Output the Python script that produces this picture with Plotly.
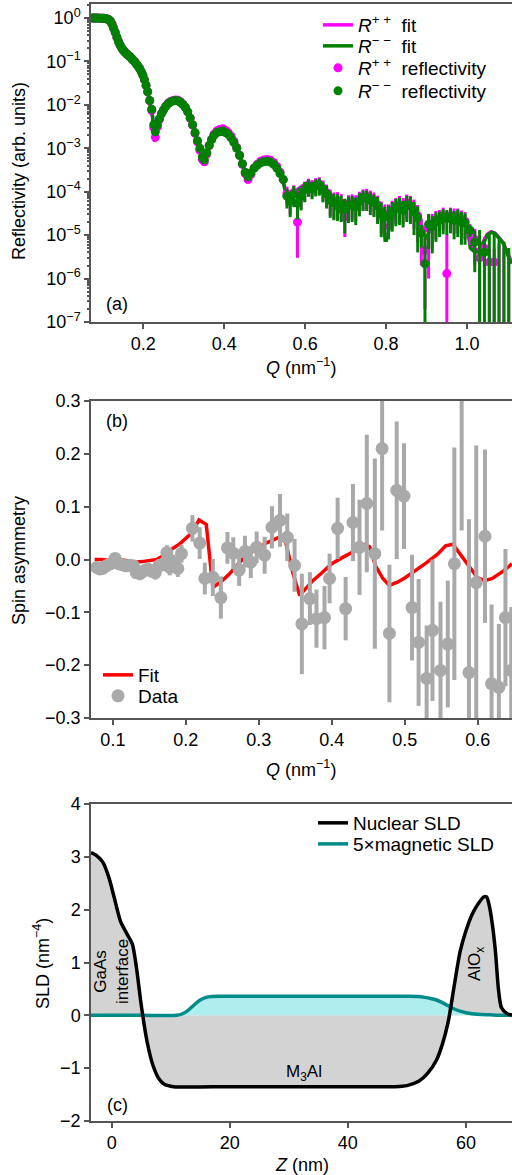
import plotly.graph_objects as go

# ---------------- (a) polarized reflectivity ----------------
q_refl = [
    0.075, 0.079, 0.083, 0.087, 0.091, 0.095, 0.099, 0.103, 0.107, 0.111,
    0.115, 0.119, 0.123, 0.127, 0.131, 0.135, 0.139, 0.143, 0.147, 0.151,
    0.155, 0.159, 0.163, 0.167, 0.171, 0.175, 0.179, 0.183, 0.187, 0.191,
    0.195, 0.199, 0.203, 0.207, 0.211, 0.216, 0.221, 0.226, 0.230, 0.235,
    0.240, 0.245, 0.250, 0.256, 0.262, 0.268, 0.274, 0.280, 0.286, 0.292,
    0.298, 0.304, 0.310, 0.316, 0.322, 0.328, 0.334, 0.340, 0.346, 0.351,
    0.357, 0.363, 0.369, 0.375, 0.382, 0.389, 0.396, 0.403, 0.410, 0.417,
    0.424, 0.431, 0.438, 0.445, 0.452, 0.459, 0.466, 0.474, 0.482, 0.490,
    0.498, 0.506, 0.514, 0.522, 0.530, 0.538, 0.546, 0.555, 0.563, 0.572,
    0.581, 0.590, 0.599, 0.608, 0.617, 0.626, 0.635, 0.644, 0.653, 0.662,
    0.671, 0.680, 0.689, 0.698, 0.707, 0.716, 0.725, 0.734, 0.743, 0.752,
    0.761, 0.770, 0.779, 0.788, 0.797, 0.806, 0.815, 0.824, 0.833, 0.842,
    0.851, 0.860, 0.869, 0.878, 0.887, 0.896, 0.905, 0.914, 0.923, 0.932,
    0.941, 0.950, 0.959, 0.968, 0.977, 0.986, 0.995, 1.007, 1.019, 1.031,
    1.043, 1.055, 1.067, 1.079, 1.091, 1.103,
]

r_pp = [
    1.0, 1.0, 1.0, 1.0, 0.99, 0.99, 0.99, 0.98, 0.97, 0.95,
    0.92, 0.85, 0.73, 0.59, 0.47, 0.36, 0.29, 0.24, 0.205, 0.182,
    0.165, 0.151, 0.14, 0.13, 0.119, 0.108, 0.099, 0.088, 0.079, 0.069,
    0.059, 0.049, 0.038, 0.028, 0.020, 0.0124, 7.5e-3, 3.0e-3, 1.8e-3, 3.1e-3,
    4.6e-3, 6.2e-3, 7.6e-3, 9.4e-3, 1.1e-2, 1.2e-2, 1.26e-2, 1.3e-2, 1.27e-2, 1.18e-2,
    1.04e-2, 8.8e-3, 6.9e-3, 4.9e-3, 3.4e-3, 2.2e-3, 1.4e-3, 9.0e-4, 5.6e-4, 4.9e-4,
    7.4e-4, 1.15e-3, 1.6e-3, 2.1e-3, 2.5e-3, 2.7e-3, 2.8e-3, 2.6e-3, 2.3e-3, 1.9e-3,
    1.45e-3, 1.05e-3, 7.0e-4, 4.3e-4, 2.6e-4, 1.9e-4, 2.5e-4, 3.5e-4, 4.3e-4, 5.0e-4,
    5.4e-4, 5.5e-4, 5.3e-4, 4.7e-4, 3.8e-4, 2.8e-4, 1.9e-4, 9.0e-5, 6.5e-5, 9.5e-5,
    2.0e-5, 8.5e-5, 1.15e-4, 1.4e-4, 1.3e-4, 1.45e-4, 1.5e-4, 1.2e-4, 9.5e-5, 7.0e-5,
    6.0e-5, 6.2e-5, 5.5e-5, 2.6e-5, 5.2e-5, 5.5e-5, 5.2e-5, 6.5e-5, 7.5e-5, 7.8e-5,
    7.0e-5, 6.2e-5, 5.0e-5, 3.5e-5, 3.0e-5, 3.0e-5, 3.8e-5, 4.5e-5, 5.0e-5, 4.5e-5,
    5.5e-5, 5.0e-5, 4.0e-5, 2.8e-5, 1.3e-5, 4.5e-6, 1.5e-5, 1.8e-5, 2.2e-5, 2.4e-5,
    2.8e-5, 1.3e-6, 2.8e-5, 2.6e-5, 2.6e-5, 2.3e-5, 2.1e-5, 1.2e-5, 8e-6, 3e-6,
    5e-6, 2.4e-6, 2.4e-6, 5e-8, 5e-8, 5e-8,
]

r_mm = [
    1.0, 1.0, 0.99, 1.0, 0.99, 0.99, 0.98, 0.98, 0.97, 0.95,
    0.91, 0.83, 0.71, 0.57, 0.46, 0.355, 0.28, 0.235, 0.20, 0.178,
    0.162, 0.148, 0.138, 0.129, 0.117, 0.107, 0.098, 0.087, 0.078, 0.068,
    0.058, 0.048, 0.038, 0.028, 0.020, 0.0126, 7.9e-3, 3.5e-3, 2.4e-3, 3.5e-3,
    4.8e-3, 6.3e-3, 7.6e-3, 9.3e-3, 1.07e-2, 1.17e-2, 1.23e-2, 1.26e-2, 1.23e-2, 1.15e-2,
    1.02e-2, 8.7e-3, 6.9e-3, 5.0e-3, 3.5e-3, 2.3e-3, 1.5e-3, 1.0e-3, 6.3e-4, 5.4e-4,
    7.9e-4, 1.17e-3, 1.58e-3, 2.0e-3, 2.3e-3, 2.4e-3, 2.5e-3, 2.3e-3, 2.1e-3, 1.74e-3,
    1.35e-3, 1.0e-3, 6.8e-4, 4.4e-4, 2.8e-4, 2.2e-4, 2.7e-4, 3.5e-4, 4.1e-4, 4.6e-4,
    4.9e-4, 5.0e-4, 4.8e-4, 4.3e-4, 3.5e-4, 2.6e-4, 1.9e-4, 7.9e-5, 6.0e-5, 8.9e-5,
    5.5e-5, 7.9e-5, 1.12e-4, 1.32e-4, 1.17e-4, 1.35e-4, 1.41e-4, 1.12e-4, 8.9e-5, 6.3e-5,
    5.6e-5, 5.4e-5, 5.0e-5, 4.0e-5, 4.8e-5, 5.0e-5, 4.5e-5, 6.0e-5, 7.1e-5, 7.1e-5,
    6.3e-5, 5.6e-5, 4.7e-5, 3.2e-5, 2.6e-5, 2.8e-5, 3.5e-5, 4.2e-5, 4.5e-5, 3.8e-5,
    5.0e-5, 4.7e-5, 3.4e-5, 2.5e-5, 1.12e-5, 2.2e-6, 1.78e-5, 1.58e-5, 2.0e-5, 2.2e-5,
    2.5e-5, 2.4e-5, 2.6e-5, 2.2e-5, 2.4e-5, 2.0e-5, 1.9e-5, 1.3e-5, 6.9e-6, 5e-8,
    4.0e-6, 5e-8, 5e-8, 5e-8, 5e-8, 5e-8,
]

dr_pp = [
    0.01, 0.01, 0.01, 0.01, 0.01, 0.01, 0.01, 0.01, 0.01, 0.01,
    0.01, 0.01, 0.01, 0.01, 0.01, 0.008, 0.006, 0.005, 0.004, 0.004,
    0.003, 0.003, 0.003, 0.003, 0.002, 0.002, 0.002, 0.002, 0.002, 0.002,
    1.5e-3, 1.2e-3, 1e-3, 8e-4, 6e-4, 4e-4, 2.5e-4, 1.5e-4, 1.2e-4, 1.5e-4,
    2e-4, 2e-4, 2.5e-4, 3e-4, 3e-4, 3e-4, 3e-4, 3e-4, 3e-4, 3e-4,
    3e-4, 2.5e-4, 2e-4, 1.5e-4, 1.2e-4, 1e-4, 7e-5, 5e-5, 4e-5, 4e-5,
    4e-5, 5e-5, 6e-5, 7e-5, 8e-5, 8e-5, 8e-5, 8e-5, 7e-5, 6e-5,
    5e-5, 4e-5, 3e-5, 2.5e-5, 2e-5, 2e-5, 2e-5, 2.5e-5, 2.5e-5, 3e-5,
    3.5e-5, 3.5e-5, 3.5e-5, 3.5e-5, 3.5e-5, 4e-5, 4e-5, 4e-5, 3.5e-5, 4.5e-5,
    1.7e-5, 4.5e-5, 5.5e-5, 6e-5, 5.5e-5, 6e-5, 6.5e-5, 6e-5, 5e-5, 4.2e-5,
    3.6e-5, 3.6e-5, 3.3e-5, 1.7e-5, 3.1e-5, 3.2e-5, 3.1e-5, 3.5e-5, 3.8e-5, 3.8e-5,
    3.6e-5, 3.4e-5, 3.1e-5, 2.4e-5, 2.1e-5, 2.1e-5, 2.4e-5, 2.7e-5, 3e-5, 2.7e-5,
    3.1e-5, 3e-5, 2.6e-5, 2.1e-5, 1.1e-5, 4.3e-6, 1.4e-5, 1.3e-5, 1.4e-5, 1.4e-5,
    1.5e-5, 9e-6, 1.5e-5, 1.5e-5, 1.5e-5, 1.4e-5, 1.3e-5, 6e-6, 6e-6, 3.5e-6,
    4e-6, 2.5e-6, 2.5e-6, 6e-6, 5e-6, 4e-6,
]

dr_mm = [
    0.01, 0.01, 0.01, 0.01, 0.01, 0.01, 0.01, 0.01, 0.01, 0.01,
    0.01, 0.01, 0.01, 0.01, 0.01, 0.008, 0.006, 0.005, 0.004, 0.004,
    0.003, 0.003, 0.003, 0.003, 0.002, 0.002, 0.002, 0.002, 0.002, 0.002,
    1.5e-3, 1.2e-3, 1e-3, 8e-4, 6e-4, 4e-4, 2.5e-4, 1.5e-4, 1.2e-4, 1.5e-4,
    2e-4, 2e-4, 2.5e-4, 3e-4, 3e-4, 3e-4, 3e-4, 3e-4, 3e-4, 3e-4,
    3e-4, 2.5e-4, 2e-4, 1.5e-4, 1.2e-4, 1e-4, 7e-5, 5e-5, 4e-5, 4e-5,
    4e-5, 5e-5, 6e-5, 7e-5, 8e-5, 8e-5, 8e-5, 8e-5, 7e-5, 6e-5,
    5e-5, 4e-5, 3e-5, 2.5e-5, 2e-5, 2e-5, 2e-5, 2.5e-5, 2.5e-5, 3e-5,
    3.5e-5, 3.5e-5, 3.5e-5, 3.5e-5, 3.5e-5, 4e-5, 4e-5, 3.8e-5, 3.4e-5, 4.5e-5,
    3.2e-5, 4.2e-5, 5.5e-5, 5.6e-5, 5e-5, 5.7e-5, 6e-5, 5.5e-5, 4.8e-5, 3.8e-5,
    3.4e-5, 3.3e-5, 3e-5, 2.9e-5, 2.9e-5, 3e-5, 2.8e-5, 3.3e-5, 3.5e-5, 3.5e-5,
    3.4e-5, 3e-5, 2.9e-5, 2.3e-5, 1.9e-5, 2e-5, 2.3e-5, 2.6e-5, 2.8e-5, 2.3e-5,
    3e-5, 2.9e-5, 2.4e-5, 2.1e-5, 6e-6, 8e-6, 1.3e-5, 1.2e-5, 1.3e-5, 1.3e-5,
    1.45e-5, 1.4e-5, 1.5e-5, 1.4e-5, 1.5e-5, 1.4e-5, 1.3e-5, 4e-6, 5.5e-6, 1.3e-5,
    4.2e-6, 1.1e-5, 1.2e-5, 8e-6, 7e-6, 5e-6,
]

q_fit = [
    0.075, 0.09, 0.10, 0.11, 0.115, 0.12, 0.125, 0.13, 0.135, 0.14,
    0.145, 0.15, 0.16, 0.17, 0.18, 0.19, 0.20, 0.21, 0.217, 0.223,
    0.228, 0.232, 0.238, 0.245, 0.255, 0.265, 0.275, 0.285, 0.295, 0.305,
    0.315, 0.325, 0.335, 0.343, 0.349, 0.355, 0.362, 0.37, 0.38, 0.39,
    0.40, 0.41, 0.42, 0.43, 0.44, 0.45, 0.457, 0.465, 0.475, 0.49,
    0.505, 0.52, 0.535, 0.545, 0.553, 0.56, 0.567, 0.58, 0.595, 0.61,
    0.625, 0.64, 0.655, 0.67, 0.68, 0.69, 0.70, 0.72, 0.74, 0.755,
    0.77, 0.785, 0.80, 0.81, 0.825, 0.84, 0.855, 0.87, 0.88, 0.89,
    0.90, 0.91, 0.925, 0.94, 0.955, 0.97, 0.985, 1.0, 1.008, 1.02,
    1.03, 1.04, 1.05, 1.06, 1.07, 1.08, 1.09, 1.10, 1.11,
]

fit_pp = [
    1.0, 1.0, 0.99, 0.96, 0.92, 0.82, 0.66, 0.5, 0.365, 0.275,
    0.225, 0.19, 0.154, 0.122, 0.097, 0.072, 0.046, 0.022, 0.011, 5.2e-3,
    1.4e-3, 2.3e-3, 4.2e-3, 6.3e-3, 9.3e-3, 1.16e-2, 1.28e-2, 1.3e-2, 1.14e-2, 8.5e-3,
    5.2e-3, 2.7e-3, 1.3e-3, 6.8e-4, 4.6e-4, 7.2e-4, 1.18e-3, 1.8e-3, 2.35e-3, 2.65e-3,
    2.6e-3, 2.25e-3, 1.7e-3, 1.1e-3, 6.0e-4, 3.0e-4, 1.8e-4, 2.5e-4, 3.6e-4, 5.0e-4,
    5.4e-4, 4.8e-4, 3.2e-4, 1.85e-4, 9.0e-5, 6.2e-5, 8.3e-5, 1.1e-4, 1.4e-4, 1.5e-4,
    1.45e-4, 1.2e-4, 8.0e-5, 5.3e-5, 4.2e-5, 3.7e-5, 5.0e-5, 6.8e-5, 8.0e-5, 8.2e-5,
    6.8e-5, 3.8e-5, 1.4e-5, 2.2e-5, 3.9e-5, 5.4e-5, 5.4e-5, 4.1e-5, 2.8e-5, 1.5e-5,
    1.3e-5, 1.6e-5, 2.3e-5, 2.7e-5, 2.8e-5, 2.7e-5, 2.4e-5, 1.9e-5, 6.0e-6, 4.5e-6,
    4.8e-6, 7e-6, 1.05e-5, 1.2e-5, 1.1e-5, 8.5e-6, 6.5e-6, 3.8e-6, 2.4e-6,
]

fit_mm = [
    1.0, 1.0, 0.99, 0.955, 0.91, 0.81, 0.65, 0.49, 0.355, 0.27,
    0.22, 0.186, 0.151, 0.12, 0.095, 0.071, 0.046, 0.022, 0.0112, 5.6e-3,
    1.8e-3, 2.5e-3, 4.3e-3, 6.3e-3, 9.1e-3, 1.12e-2, 1.23e-2, 1.26e-2, 1.1e-2, 8.3e-3,
    5.2e-3, 2.8e-3, 1.4e-3, 7.6e-4, 5.2e-4, 7.6e-4, 1.17e-3, 1.7e-3, 2.2e-3, 2.45e-3,
    2.4e-3, 2.1e-3, 1.58e-3, 1.05e-3, 6.0e-4, 3.2e-4, 2.0e-4, 2.6e-4, 3.5e-4, 4.6e-4,
    5.0e-4, 4.4e-4, 3.0e-4, 1.78e-4, 8.9e-5, 6.0e-5, 7.9e-5, 1.05e-4, 1.32e-4, 1.41e-4,
    1.35e-4, 1.12e-4, 7.6e-5, 5.0e-5, 3.8e-5, 3.3e-5, 4.5e-5, 6.3e-5, 7.4e-5, 7.6e-5,
    6.3e-5, 3.2e-5, 7.1e-6, 1.78e-5, 3.5e-5, 5.0e-5, 5.0e-5, 3.8e-5, 2.5e-5, 1.12e-5,
    8.9e-6, 1.41e-5, 2.1e-5, 2.5e-5, 2.6e-5, 2.5e-5, 2.2e-5, 1.78e-5, 5.0e-6, 4.0e-6,
    4.2e-6, 6.3e-6, 1.0e-5, 1.17e-5, 1.05e-5, 8.3e-6, 6.3e-6, 3.5e-6, 2.2e-6,
]

# ---------------- (b) spin asymmetry ----------------
q_sa = [
    0.078, 0.082, 0.086, 0.091, 0.097, 0.103, 0.108, 0.113, 0.118, 0.123,
    0.128, 0.132, 0.137, 0.142, 0.148, 0.153, 0.158, 0.163, 0.169, 0.174,
    0.178, 0.183, 0.189, 0.194, 0.209, 0.219, 0.226, 0.237, 0.248, 0.257,
    0.265, 0.273, 0.281, 0.289, 0.297, 0.308, 0.318, 0.329, 0.339, 0.349,
    0.359, 0.370, 0.379, 0.390, 0.397, 0.408, 0.419, 0.429, 0.438, 0.448,
    0.459, 0.469, 0.479, 0.489, 0.499, 0.510, 0.519, 0.530, 0.538, 0.549,
    0.559, 0.568, 0.578, 0.588, 0.598, 0.610, 0.619, 0.629, 0.638, 0.646,
]
sa = [
    -0.015, -0.018, -0.017, -0.012, -0.008, 0.002, -0.008, -0.010, -0.012, -0.011,
    -0.012, -0.025, -0.027, -0.022, -0.018, -0.022, -0.025, -0.012, -0.008, 0.013,
    -0.015, -0.006, -0.017, 0.011, 0.059, 0.031, -0.036, -0.034, -0.072, 0.022,
    0.012, -0.020, 0.015, -0.005, 0.023, 0.008, 0.061, 0.074, 0.042, -0.011,
    -0.122, -0.074, -0.112, -0.110, -0.036, 0.059, -0.093, 0.070, 0.023, 0.106,
    0.011, 0.210, -0.140, 0.131, 0.120, -0.091, -0.157, -0.225, -0.134, -0.210,
    -0.160, -0.008, 0.340, -0.214, -0.044, 0.044, -0.235, -0.242, -0.110, -0.210,
]
sa_err = [
    0.010, 0.010, 0.010, 0.010, 0.010, 0.010, 0.010, 0.010, 0.010, 0.010,
    0.011, 0.011, 0.012, 0.012, 0.012, 0.012, 0.013, 0.013, 0.014, 0.014,
    0.015, 0.015, 0.016, 0.017, 0.025, 0.030, 0.030, 0.035, 0.040, 0.030,
    0.030, 0.030, 0.030, 0.030, 0.030, 0.035, 0.040, 0.050, 0.045, 0.050,
    0.095, 0.050, 0.055, 0.060, 0.047, 0.058, 0.060, 0.073, 0.090, 0.130,
    0.180, 0.155, 0.130, 0.130, 0.100, 0.100, 0.120, 0.100, 0.134, 0.130,
    0.120, 0.220, 0.285, 0.290, 0.260, 0.164, 0.150, 0.120, 0.130, 0.120,
]

q_sa_fit = [
    0.075, 0.085, 0.095, 0.10, 0.11, 0.12, 0.13, 0.14, 0.15, 0.16,
    0.17, 0.178, 0.192, 0.208, 0.218, 0.228, 0.237, 0.25, 0.26, 0.27,
    0.28, 0.29, 0.30, 0.31, 0.32, 0.329, 0.337, 0.347, 0.356, 0.364,
    0.374, 0.385, 0.40, 0.415, 0.43, 0.445, 0.452, 0.46, 0.47, 0.479,
    0.49, 0.50, 0.515, 0.53, 0.545, 0.556, 0.566, 0.575, 0.588, 0.60,
    0.61, 0.62, 0.635, 0.647,
]
sa_fit = [
    0.0, 0.0, -0.002, 0.002, 0.0, -0.003, -0.005, -0.004, -0.002, 0.0,
    0.008, 0.017, 0.030, 0.050, 0.075, 0.066, -0.053, -0.040, -0.027, -0.012,
    0.004, 0.014, 0.023, 0.031, 0.037, 0.043, 0.032, -0.027, -0.068, -0.055,
    -0.040, -0.027, -0.008, 0.004, 0.015, 0.028, 0.024, -0.012, -0.036, -0.049,
    -0.043, -0.035, -0.021, -0.006, 0.010, 0.026, 0.029, 0.012, -0.015, -0.035,
    -0.040, -0.036, -0.022, -0.008,
]

# ---------------- (c) depth profiles ----------------
z_nuc = [
    -3.5, -2.5, -1.5, -0.5, 0.5, 1.5, 2.5, 3.5, 4.2, 5.0,
    6.0, 7.0, 8.0, 9.0, 10.5, 20.0, 30.0, 40.0, 48.0, 50.0,
    52.0, 53.5, 55.0, 56.0, 57.0, 58.0, 59.0, 60.0, 61.0, 62.0,
    63.0, 63.5, 64.0, 64.5, 65.0, 65.5, 66.0, 67.0, 68.0,
]
sld_nuc = [
    3.08, 3.02, 2.90, 2.62, 2.20, 1.78, 1.56, 1.35, 0.90, 0.20,
    -0.50, -0.95, -1.20, -1.31, -1.35, -1.35, -1.35, -1.35, -1.35, -1.33,
    -1.25, -1.10, -0.85, -0.55, -0.12, 0.55, 1.20, 1.60, 1.90, 2.10,
    2.24, 2.24, 2.05, 1.70, 1.20, 0.50, 0.15, 0.03, 0.0,
]
z_mag = [
    -3.5, 5.0, 11.0, 12.0, 13.0, 14.0, 15.0, 16.0, 17.0, 18.0,
    30.0, 45.0, 50.0, 52.0, 53.0, 54.0, 55.0, 56.0, 57.0, 58.0,
    59.0, 60.0, 61.0, 62.0, 64.0, 66.0, 68.0,
]
sld_mag5 = [
    0.0, 0.0, 0.0, 0.03, 0.10, 0.20, 0.29, 0.34, 0.355, 0.36,
    0.36, 0.36, 0.36, 0.355, 0.34, 0.32, 0.29, 0.24, 0.18, 0.12,
    0.08, 0.05, 0.03, 0.02, 0.01, 0.0, 0.0,
]

FONT = "Liberation Sans, Arial, Helvetica, sans-serif"
W, H = 512, 1175
AXIS_COLOR = "#555555"


def px(x):
    return x / W


def py(y):
    return 1 - y / H


MAGENTA = "#ff00ff"
GREEN = "#008000"
GRAY = "#a9a9a9"

fig = go.Figure()

# (a) fits, then measured reflectivity
fig.add_trace(go.Scatter(x=q_fit, y=fit_pp, mode="lines", line=dict(color=MAGENTA, width=3.5),
                         name="<i>R</i><sup>+ +</sup>  fit", xaxis="x", yaxis="y", legend="legend"))
fig.add_trace(go.Scatter(x=q_fit, y=fit_mm, mode="lines", line=dict(color=GREEN, width=3.5),
                         name="<i>R</i><sup>\u2212 \u2212</sup>  fit", xaxis="x", yaxis="y", legend="legend2"))
fig.add_trace(go.Scatter(x=q_refl, y=r_pp, mode="markers", marker=dict(color=MAGENTA, size=9),
                         error_y=dict(type="data", array=dr_pp, color=MAGENTA, thickness=3, width=0),
                         name="<i>R</i><sup>+ +</sup>  reflectivity", xaxis="x", yaxis="y", legend="legend3"))
fig.add_trace(go.Scatter(x=q_refl, y=r_mm, mode="markers", marker=dict(color=GREEN, size=9),
                         error_y=dict(type="data", array=dr_mm, color=GREEN, thickness=3, width=0),
                         name="<i>R</i><sup>\u2212 \u2212</sup>  reflectivity", xaxis="x", yaxis="y", legend="legend4"))

# (b) spin asymmetry
fig.add_trace(go.Scatter(x=q_sa_fit, y=sa_fit, mode="lines", line=dict(color="#ff0000", width=3.5),
                         name="Fit", xaxis="x2", yaxis="y2", legend="legend5"))
fig.add_trace(go.Scatter(x=q_sa, y=sa, mode="markers", marker=dict(color=GRAY, size=13),
                         error_y=dict(type="data", array=sa_err, color=GRAY, thickness=4, width=0),
                         name="Data", xaxis="x2", yaxis="y2", legend="legend6"))

# (c) SLD profiles: filled areas, then outlines
fig.add_trace(go.Scatter(x=z_nuc, y=sld_nuc, mode="lines", fill="tozeroy", fillcolor="#d3d3d3",
                         line=dict(width=0, shape="spline", smoothing=0.7), showlegend=False,
                         hoverinfo="skip", xaxis="x3", yaxis="y3"))
fig.add_trace(go.Scatter(x=z_mag, y=sld_mag5, mode="lines", fill="tozeroy", fillcolor="#afeeee",
                         line=dict(width=0, shape="spline", smoothing=0.7), showlegend=False,
                         hoverinfo="skip", xaxis="x3", yaxis="y3"))
fig.add_trace(go.Scatter(x=z_mag, y=sld_mag5, mode="lines",
                         line=dict(color="#008b8b", width=3.5, shape="spline", smoothing=0.7),
                         name="5\u00d7magnetic SLD", xaxis="x3", yaxis="y3", legend="legend8"))
fig.add_trace(go.Scatter(x=z_nuc, y=sld_nuc, mode="lines",
                         line=dict(color="black", width=3.5, shape="spline", smoothing=0.7),
                         name="Nuclear SLD", xaxis="x3", yaxis="y3", legend="legend7"))

axis_common = dict(showline=True, linecolor=AXIS_COLOR, linewidth=1.5, ticks="outside",
                   ticklen=5, tickwidth=1.5, tickcolor=AXIS_COLOR, showgrid=False,
                   zeroline=False, tickfont=dict(family=FONT, size=18, color="black"),
                   automargin=False)

xdom = [px(91), 1.0]

dec = list(range(-7, 1))
fig.update_layout(
    xaxis=dict(domain=xdom, anchor="y", range=[0.071, 1.111], tickvals=[0.2, 0.4, 0.6, 0.8, 1.0],
               tickformat=".1f", mirror=True, **axis_common),
    yaxis=dict(domain=[py(322), py(4)], anchor="x", type="log", range=[-7, 0.322],
               tickvals=[10.0 ** d for d in dec],
               ticktext=["10<sup>%s</sup>" % (("\u2212%d" % -d) if d < 0 else "0") for d in dec],
               minor=dict(ticks="outside", ticklen=2.5, tickcolor=AXIS_COLOR, dtick="D1"),
               **axis_common),
    xaxis2=dict(domain=xdom, anchor="y2", range=[0.07, 0.647], tickvals=[0.1, 0.2, 0.3, 0.4, 0.5, 0.6],
                tickformat=".1f", mirror=True, **axis_common),
    yaxis2=dict(domain=[py(718), py(401)], anchor="x2", range=[-0.3, 0.3],
                tickvals=[-0.3, -0.2, -0.1, 0.0, 0.1, 0.2, 0.3], tickformat=".1f", **axis_common),
    xaxis3=dict(domain=xdom, anchor="y3", range=[-3.5, 67.8], tickvals=[0, 20, 40, 60],
                mirror=True, **axis_common),
    yaxis3=dict(domain=[py(1121), py(804)], anchor="x3", range=[-2, 4],
                tickvals=[-2, -1, 0, 1, 2, 3, 4], **axis_common),
    width=W, height=H,
    margin=dict(l=0, r=0, t=0, b=0, pad=0),
    paper_bgcolor="white", plot_bgcolor="white",
    font=dict(family=FONT, size=18, color="black"),
)

# one legend box per entry so each row sits where it belongs
legend_rows = {
    "legend": (318, 25), "legend2": (318, 46), "legend3": (318, 68), "legend4": (318, 91),
    "legend5": (98, 675), "legend6": (98, 696),
    "legend7": (313, 823), "legend8": (313, 844),
}
for key, (lx, ly) in legend_rows.items():
    fig.update_layout({key: dict(x=px(lx), y=py(ly), xanchor="left", yanchor="middle",
                                 bgcolor="rgba(0,0,0,0)", borderwidth=0,
                                 font=dict(family=FONT, size=19, color="black"))})

ann = []


def label(text, x, y, size=18, angle=0, **kw):
    ann.append(dict(text=text, x=px(x), y=py(y), xref="paper", yref="paper", showarrow=False,
                    textangle=angle, xanchor="center", yanchor="middle",
                    font=dict(family=FONT, size=size, color="black"), **kw))


# axis titles
label("Reflectivity (arb. units)", 19, 171, angle=-90)
label("<i>Q</i> (nm<sup>\u22121</sup>)", 301, 366)
label("Spin asymmetry", 19, 561, angle=-90)
label("<i>Q</i> (nm<sup>\u22121</sup>)", 301, 768)
label("SLD (nm<sup>\u22124</sup>)", 41, 964, angle=-90)
label("<i>Z</i> (nm)", 302, 1165)
# panel tags
label("(a)", 117, 304)
label("(b)", 117, 421)
label("(c)", 117, 1105)
# layer names
label("GaAs<br>interface", 112, 972, size=17, angle=-90)
label("M<sub>3</sub>Al", 304, 1073, size=17)
label("AlO<sub>x</sub>", 476, 964, size=17, angle=-90)

fig.update_layout(annotations=ann)

fig.write_html("out.html")
